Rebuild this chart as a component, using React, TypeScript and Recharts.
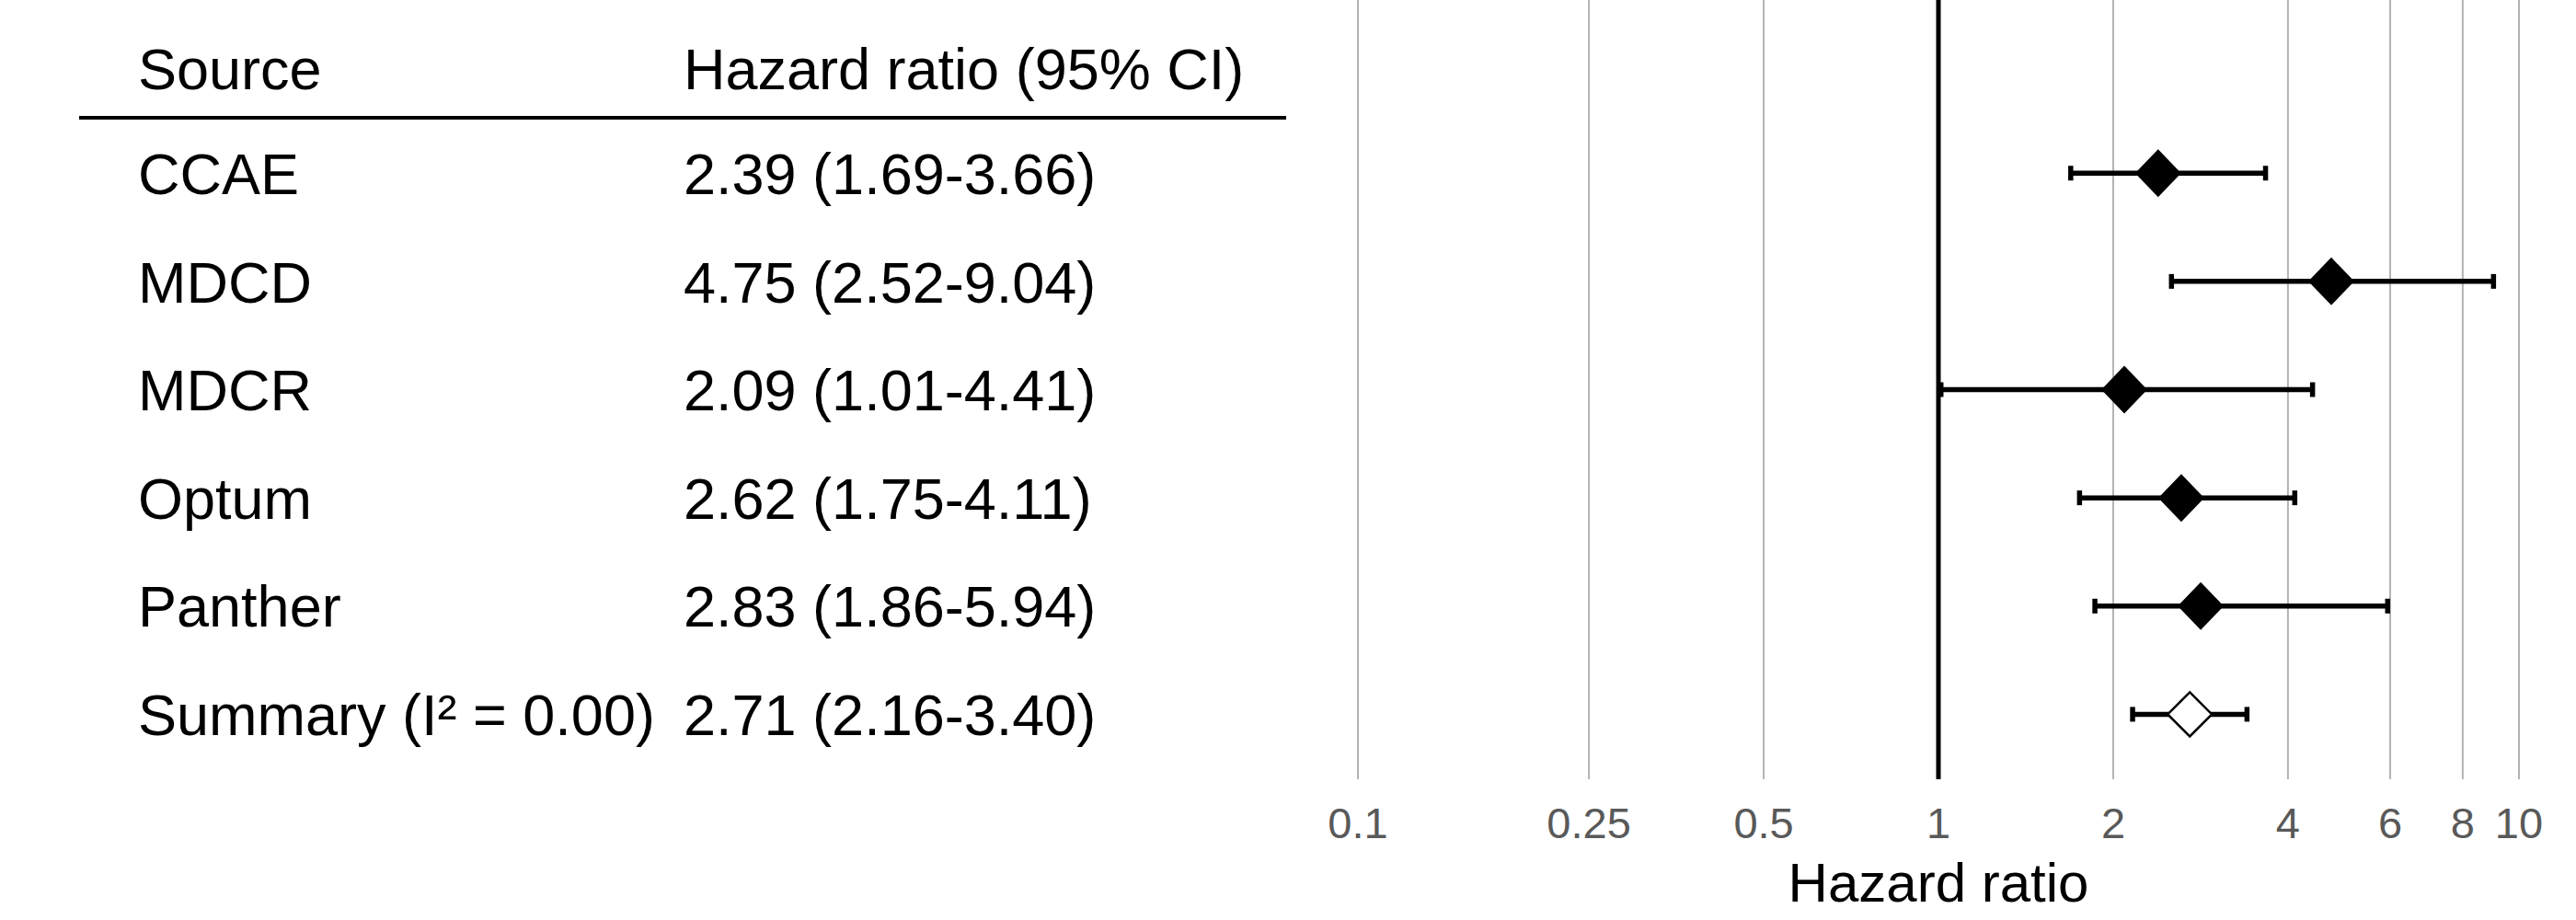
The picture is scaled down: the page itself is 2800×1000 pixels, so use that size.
import React from "react";
import {
  ScatterChart,
  Scatter,
  XAxis,
  YAxis,
  CartesianGrid,
  ReferenceLine,
  ErrorBar,
  Customized,
} from "recharts";

const sources = ["CCAE", "MDCD", "MDCR", "Optum", "Panther", "Summary (I\u00b2 = 0.00)"];
const hazardRatios = [2.39, 4.75, 2.09, 2.62, 2.83, 2.71];
const lowerCI = [1.69, 2.52, 1.01, 1.75, 1.86, 2.16];
const upperCI = [3.66, 9.04, 4.41, 4.11, 5.94, 3.4];
const xTicks = [0.1, 0.25, 0.5, 1, 2, 4, 6, 8, 10];

const FONT = '"Liberation Sans", Arial, Helvetica, sans-serif';
const TABLE_SIZE = 63;

const rows = sources.map((name, i) => ({
  row: i,
  hr: hazardRatios[i],
  err: [hazardRatios[i] - lowerCI[i], upperCI[i] - hazardRatios[i]],
  summary: i === sources.length - 1,
}));

const studyRows = rows.filter((r) => !r.summary);
const summaryRows = rows.filter((r) => r.summary);

function fmt(i: number) {
  return `${hazardRatios[i].toFixed(2)} (${lowerCI[i].toFixed(2)}-${upperCI[i].toFixed(2)})`;
}

function TableTick(props: any) {
  const { y, payload } = props;
  const i = payload.value;
  const base = y + TABLE_SIZE * 0.36;
  return (
    <g>
      <text x={150} y={base} fontSize={TABLE_SIZE} fill="#000">
        {sources[i]}
      </text>
      <text x={743} y={base} fontSize={TABLE_SIZE} fill="#000">
        {fmt(i)}
      </text>
    </g>
  );
}

function TableHeader() {
  return (
    <g>
      <text x={150} y={97} fontSize={TABLE_SIZE} fill="#000">
        Source
      </text>
      <text x={743} y={97} fontSize={TABLE_SIZE} fill="#000">
        Hazard ratio (95% CI)
      </text>
      <line x1={86} x2={1398} y1={128} y2={128} stroke="#000" strokeWidth={4} />
    </g>
  );
}

function FilledDiamond(props: any) {
  const { cx, cy } = props;
  const w = 25;
  const h = 26;
  return <path d={`M${cx},${cy - h}L${cx + w},${cy}L${cx},${cy + h}L${cx - w},${cy}Z`} fill="#000" />;
}

function OpenDiamond(props: any) {
  const { cx, cy } = props;
  const s = 24;
  return (
    <path
      d={`M${cx},${cy - s}L${cx + s},${cy}L${cx},${cy + s}L${cx - s},${cy}Z`}
      fill="#fff"
      stroke="#000"
      strokeWidth={2.5}
    />
  );
}

export default function App() {
  return (
    <div style={{ width: 2800, height: 1000, fontFamily: FONT, background: "#fff" }}>
      <style>{"body{margin:0}"}</style>
      <ScatterChart width={2800} height={1000} margin={{ top: 0, right: 62, bottom: 0, left: 0 }}>
        <CartesianGrid horizontal={false} stroke="#b3b3b3" strokeWidth={2} />
        <XAxis
          type="number"
          dataKey="hr"
          scale="log"
          domain={[0.1, 10]}
          ticks={xTicks}
          interval={0}
          allowDataOverflow
          axisLine={false}
          tickLine={false}
          tickMargin={25}
          height={153}
          tick={{ fill: "#595959", fontSize: 47 }}
          label={{ value: "Hazard ratio", position: "insideBottom", offset: 20, fill: "#000", fontSize: 60 }}
        />
        <YAxis
          type="number"
          dataKey="row"
          domain={[-1.6, 5.6]}
          reversed
          ticks={[0, 1, 2, 3, 4, 5]}
          interval={0}
          allowDataOverflow
          width={1476}
          axisLine={false}
          tickLine={false}
          tick={<TableTick />}
        />
        <ReferenceLine x={1} stroke="#000" strokeWidth={5} />
        <Scatter data={studyRows} shape={<FilledDiamond />} isAnimationActive={false}>
          <ErrorBar dataKey="err" direction="x" width={8} stroke="#000" strokeWidth={5.5} isAnimationActive={false} />
        </Scatter>
        <Scatter data={summaryRows} shape={<OpenDiamond />} isAnimationActive={false}>
          <ErrorBar dataKey="err" direction="x" width={8} stroke="#000" strokeWidth={5.5} isAnimationActive={false} />
        </Scatter>
        <Customized component={TableHeader} />
      </ScatterChart>
    </div>
  );
}
